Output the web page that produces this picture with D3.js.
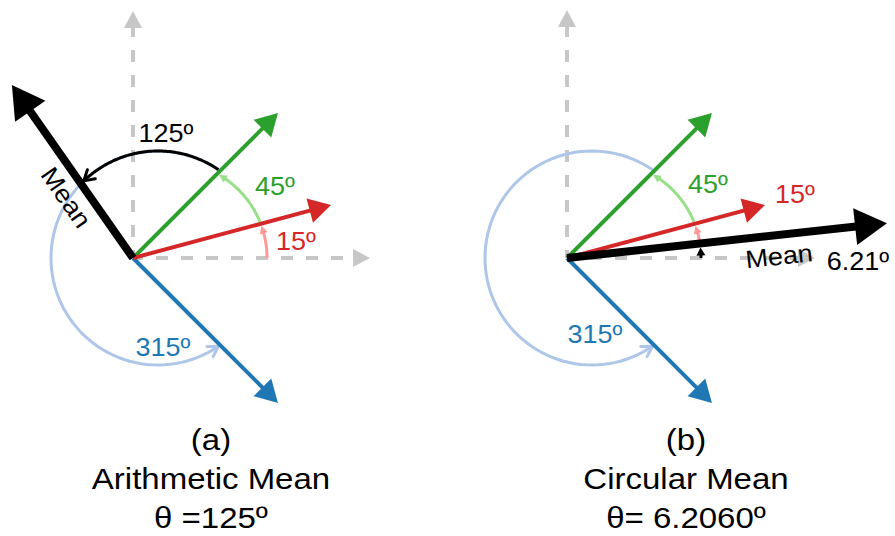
<!DOCTYPE html>
<html>
<head>
<meta charset="utf-8">
<script src="https://cdn.jsdelivr.net/npm/d3@7"></script>
<style>
  body { margin: 0; background: #fff; }
  svg { display: block; }
  text { font-family: "Liberation Sans", Arial, Helvetica, sans-serif; }
</style>
</head>
<body>
<svg id="chart" width="895" height="536"></svg>
<script>
// Three unit directions, degrees counter-clockwise from east
const vectorAngles = [15, 45, 315];
const vectorKeys = ["red", "green", "blue"];
const vectorLabels = ["15º", "45º", "315º"];

// One panel per way of averaging the directions
const panelTags = ["(a)", "(b)"];
const panelTitles = ["Arithmetic Mean", "Circular Mean"];
const meanAngles = [125, 6.2060];
const meanArcLabels = ["125º", "6.21º"];
const meanTitles = ["θ =125º", "θ= 6.2060º"];

// ---- styles ----
const colors = {
  red: "#d62728", green: "#2ca02c", blue: "#1f77b4",
  redLight: "#ff9896", greenLight: "#98df8a", blueLight: "#aec7e8",
  axis: "#c7c7c7", black: "#000000"
};

// ---- layout per panel ----
const layout = [
  {
    origin: [133, 258], axisX: 237, axisY: 247, meanLen: 1.03,
    labels: { red: [163, -8], green: [142, -63], blue: [30, 98] },
    meanArcLabel: [33, -116],
    meanText: { along: 88, side: [-0.819, 0.574], off: 20, rot: 55 },
    titleX: 211
  },
  {
    origin: [567, 258], axisX: 248, axisY: 248, meanLen: 1.57,
    labels: { red: [228, -55], green: [141, -65], blue: [28, 85] },
    meanArcLabel: [291, 12],
    meanText: { along: 211, side: [0.108, 0.994], off: 21, rot: -6.206 },
    titleX: 686
  }
];

const svg = d3.select("#chart");
svg.append("rect").attr("width", 895).attr("height", 536).attr("fill", "#fff");

// degrees -> radians
const angleScale = d3.scaleLinear().domain([0, 360]).range([0, 2 * Math.PI]);
// unit length -> pixels
const radius = d3.scaleLinear().domain([0, 1]).range([0, 205]);

function polar(o, deg, r) {
  const a = angleScale(deg);
  return [o[0] + r * Math.cos(a), o[1] - r * Math.sin(a)];
}

// Straight arrow with a filled triangular head
function arrow(g, o, deg, len, opts) {
  const a = angleScale(deg);
  const u = [Math.cos(a), -Math.sin(a)];
  const nrm = [-u[1], u[0]];
  const tip = [o[0] + len * u[0], o[1] + len * u[1]];
  const base = [tip[0] - opts.headLen * u[0], tip[1] - opts.headLen * u[1]];
  const lineEnd = [base[0] + 1 * u[0], base[1] + 1 * u[1]];
  const ln = g.append("line")
    .attr("x1", o[0]).attr("y1", o[1])
    .attr("x2", lineEnd[0]).attr("y2", lineEnd[1])
    .attr("stroke", opts.color).attr("stroke-width", opts.width);
  if (opts.dash) ln.attr("stroke-dasharray", opts.dash).attr("stroke-dashoffset", opts.dashOffset || 0);
  const hw = opts.headW / 2;
  g.append("path")
    .attr("d", d3.line()([
      tip,
      [base[0] + hw * nrm[0], base[1] + hw * nrm[1]],
      [base[0] - hw * nrm[0], base[1] - hw * nrm[1]]
    ]) + "Z")
    .attr("fill", opts.color);
}

// Angle (around the arc's own centre) where a ray from the origin meets the arc circle
function rayOnCircle(deg, off, R) {
  const a = angleScale(deg), ux = Math.cos(a), uy = Math.sin(a);
  const b = ux * off;
  const t = b + Math.sqrt(b * b - off * off + R * R);
  return Math.atan2(t * uy, t * ux - off);
}

// Curved angle marker from one ray to another, with an arrow head at its end
function angleArc(g, o, spec) {
  const { from, to, off, R, color, width, head } = spec;
  let p1 = rayOnCircle(from, off, R) + (spec.startInset || 0) / R;
  let p2 = rayOnCircle(to, off, R);
  if (p2 < p1) p2 += 2 * Math.PI;
  p2 -= (spec.endInset || 0) / R;
  const cx = o[0] + off, cy = o[1];
  const pt = phi => [cx + R * Math.cos(phi), cy - R * Math.sin(phi)];
  const tip = pt(p2);
  const back = pt(p2 - head.len / R);
  const dl = Math.hypot(tip[0] - back[0], tip[1] - back[1]);
  const t = [(tip[0] - back[0]) / dl, (tip[1] - back[1]) / dl];
  const n = [-t[1], t[0]];
  const lineEnd = head.type === "fill" ? p2 - (head.len * 0.7) / R : p2;
  const steps = 80;
  if (lineEnd > p1) {
    const pts = d3.range(steps + 1).map(i => pt(p1 + (lineEnd - p1) * i / steps));
    g.append("path").attr("d", d3.line()(pts))
      .attr("fill", "none").attr("stroke", color).attr("stroke-width", width);
  }
  const b = [tip[0] - head.len * t[0], tip[1] - head.len * t[1]];
  const hw = head.w / 2;
  const c1 = [b[0] + hw * n[0], b[1] + hw * n[1]];
  const c2 = [b[0] - hw * n[0], b[1] - hw * n[1]];
  if (head.type === "fill") {
    g.append("path").attr("d", d3.line()([tip, c1, c2]) + "Z").attr("fill", color);
  } else {
    g.append("path").attr("d", d3.line()([c1, tip, c2]))
      .attr("fill", "none").attr("stroke", color).attr("stroke-width", width)
      .attr("stroke-linecap", "round").attr("stroke-linejoin", "round");
  }
}

function label(g, x, y, str, color, size, sx, rot) {
  g.append("text")
    .attr("transform", `translate(${x},${y}) rotate(${rot || 0}) scale(${sx},1)`)
    .attr("text-anchor", "middle")
    .attr("font-size", size)
    .attr("fill", color)
    .text(str);
}

const small = { off: 38, R: 96 };
const large = { off: 25, R: 107 };
const fillHead = { type: "fill", len: 8, w: 8 };
const openHead = { type: "open", len: 10, w: 12 };

layout.forEach((L, pi) => {
  const g = svg.append("g");
  const o = L.origin;
  const mean = meanAngles[pi];

  // dashed reference axes
  const axisStyle = { color: colors.axis, width: 4, headLen: 17, headW: 18, dash: "12 13" };
  arrow(g, o, 90, L.axisY, { ...axisStyle, dashOffset: 4 });
  arrow(g, o, 0, L.axisX, { ...axisStyle, dashOffset: 2 });

  // angle markers on the inner circle
  const sorted = vectorAngles.map((a, i) => ({ a, key: vectorKeys[i] }))
    .filter(d => d.a < 180).sort((p, q) => p.a - q.a);
  let prev = 0;
  if (pi === 1) {
    angleArc(g, o, { from: 0, to: mean, ...small, color: colors.black, width: 3,
      head: { type: "fill", len: 8, w: 9 }, endInset: 4 });
    prev = mean;
  }
  sorted.forEach(d => {
    angleArc(g, o, { from: prev, to: d.a, ...small, color: colors[d.key + "Light"], width: 3,
      head: fillHead, startInset: prev === 0 ? 0 : 2, endInset: 2 });
    prev = d.a;
  });

  // the long way round to 315º
  const blueIdx = vectorKeys.indexOf("blue");
  angleArc(g, o, { from: sorted[sorted.length - 1].a, to: vectorAngles[blueIdx], ...large,
    color: colors.blueLight, width: 3, head: openHead, startInset: 2, endInset: 2 });

  if (pi === 0) {
    angleArc(g, o, { from: sorted[sorted.length - 1].a, to: mean, ...large,
      color: colors.black, width: 3, head: openHead, startInset: 2, endInset: 4 });
  }

  // the three vectors
  ["blue", "green", "red"].forEach(k => {
    const i = vectorKeys.indexOf(k);
    arrow(g, o, vectorAngles[i], radius(1), { color: colors[k], width: 4, headLen: 22, headW: 25 });
  });

  // mean vector
  arrow(g, o, mean, radius(L.meanLen), { color: colors.black, width: 8, headLen: 32, headW: 37 });

  // value labels
  vectorKeys.forEach((k, i) => {
    const p = L.labels[k];
    label(g, o[0] + p[0], o[1] + p[1], vectorLabels[i], colors[k], 25, 1.08);
  });
  label(g, o[0] + L.meanArcLabel[0], o[1] + L.meanArcLabel[1], meanArcLabels[pi], colors.black, 25, 1.08);

  // "Mean" along the mean vector
  const mp = polar(o, mean, L.meanText.along);
  const mx = mp[0] + L.meanText.side[0] * L.meanText.off;
  const my = mp[1] + L.meanText.side[1] * L.meanText.off;
  g.append("text")
    .attr("transform", `translate(${mx},${my}) rotate(${L.meanText.rot}) scale(1.08,1)`)
    .attr("text-anchor", "middle")
    .attr("dominant-baseline", "central")
    .attr("font-size", 25)
    .attr("fill", colors.black)
    .text("Mean");

  // captions
  label(g, L.titleX, 450, panelTags[pi], colors.black, 30, 1.1);
  label(g, L.titleX, 489, panelTitles[pi], colors.black, 30, 1.1);
  label(g, L.titleX, 528, meanTitles[pi], colors.black, 30, 1.1);
});
</script>
</body>
</html>
